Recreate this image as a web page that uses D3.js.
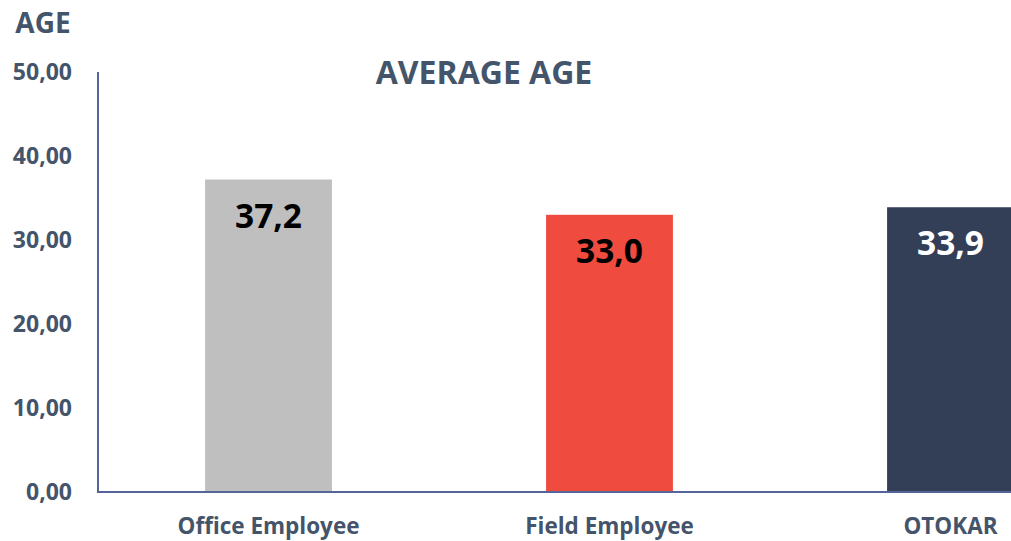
<!DOCTYPE html>
<html lang="en">
<head>
<meta charset="utf-8">
<title>Average Age</title>
<script src="https://d3js.org/d3.v7.min.js"></script>
<style>
  body { margin: 0; background: #fff; }
  text { font-family: "Open Sans", "Noto Sans", sans-serif; font-weight: bold; }
</style>
</head>
<body>
<div id="chart"></div>
<script>
// data
var categories = ["Office Employee", "Field Employee", "OTOKAR"];
var ages = [37.2, 33.0, 33.9];
var barColors = ["#bfbfbf", "#ef4b3f", "#333f57"];
var labelColors = ["#000000", "#000000", "#ffffff"];
var yTicks = [0, 10, 20, 30, 40, 50];

var W = 1011, H = 541;
var m = {top: 72, left: 98, bottom: 49};
var textColor = "#44546a";
var axisColor = "#55659a";

var svg = d3.select("#chart").append("svg")
    .attr("width", W)
    .attr("height", H);

// plot area runs past the right edge of the picture, like the original
var x = d3.scaleBand()
    .domain(categories)
    .range([m.left, m.left + 1023])
    .paddingInner(0.628)
    .paddingOuter(0.314);

var y = d3.scaleLinear()
    .domain([0, 50])
    .range([H - m.bottom, m.top]);

// bars
svg.append("g")
   .selectAll("rect")
   .data(ages)
   .join("rect")
   .attr("x", (d, i) => x(categories[i]))
   .attr("y", d => y(d))
   .attr("width", x.bandwidth())
   .attr("height", d => y(0) - y(d))
   .style("fill", (d, i) => barColors[i]);

// value labels inside the bars
svg.append("g")
   .selectAll("text")
   .data(ages)
   .join("text")
   .attr("x", (d, i) => x(categories[i]) + x.bandwidth() / 2)
   .attr("y", d => y(d) + 48)
   .attr("text-anchor", "middle")
   .style("font-size", "33.5px")
   .style("fill", (d, i) => labelColors[i])
   .text(d => d.toFixed(1).replace(".", ","));

// axes lines
svg.append("line")
   .attr("x1", m.left).attr("x2", m.left)
   .attr("y1", y(50)).attr("y2", y(0))
   .style("stroke", axisColor).style("stroke-width", 2);
svg.append("line")
   .attr("x1", m.left - 1).attr("x2", W)
   .attr("y1", y(0)).attr("y2", y(0))
   .style("stroke", axisColor).style("stroke-width", 2);

// y tick labels
svg.append("g")
   .selectAll("text")
   .data(yTicks)
   .join("text")
   .attr("x", 72)
   .attr("y", d => y(d))
   .attr("dy", "0.36em")
   .attr("text-anchor", "end")
   .style("font-size", "23px")
   .style("fill", textColor)
   .text(d => d.toFixed(2).replace(".", ","));

// x category labels
svg.append("g")
   .selectAll("text")
   .data(categories)
   .join("text")
   .attr("x", d => x(d) + x.bandwidth() / 2)
   .attr("y", 534)
   .attr("text-anchor", "middle")
   .style("font-size", "22.5px")
   .style("fill", textColor)
   .text(d => d);

// axis title and chart title
svg.append("text")
   .attr("x", 43).attr("y", 33)
   .attr("text-anchor", "middle")
   .style("font-size", "28px")
   .style("fill", textColor)
   .text("AGE");

svg.append("text")
   .attr("x", 484).attr("y", 84)
   .attr("text-anchor", "middle")
   .style("font-size", "32px")
   .style("fill", textColor)
   .text("AVERAGE AGE");
</script>
</body>
</html>
